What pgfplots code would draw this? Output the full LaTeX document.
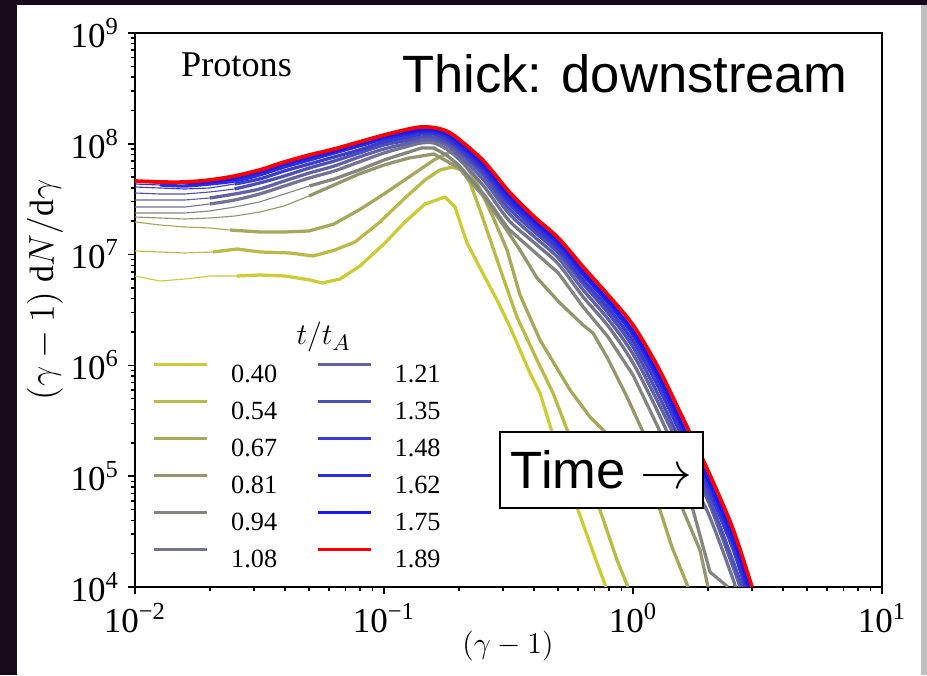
\documentclass[border=0pt]{standalone}
\usepackage{pgfplots}
\pgfplotsset{compat=1.18}
\usepackage{fontspec}
\setmainfont{Liberation Serif}
\newfontfamily\arialfont{Liberation Sans}
\definecolor{bgdark}{RGB}{22,10,26}
\definecolor{c040}{rgb}{0.80,0.80,0.20}
\definecolor{c054}{rgb}{0.73,0.73,0.275}
\definecolor{c067}{rgb}{0.66,0.66,0.35}
\definecolor{c081}{rgb}{0.59,0.59,0.425}
\definecolor{c094}{rgb}{0.52,0.52,0.50}
\definecolor{c108}{rgb}{0.45,0.45,0.575}
\definecolor{c121}{rgb}{0.38,0.38,0.65}
\definecolor{c135}{rgb}{0.31,0.31,0.725}
\definecolor{c148}{rgb}{0.24,0.24,0.80}
\definecolor{c162}{rgb}{0.17,0.17,0.875}
\definecolor{c175}{rgb}{0.10,0.10,0.95}
\definecolor{c189}{rgb}{1,0,0}
\begin{document}
\begin{tikzpicture}[x=1pt,y=1pt]
\fill[bgdark] (0,0) rectangle (370.8,270);
\fill[white] (6.8,0) rectangle (368.4,268);
\fill[black!25] (368.4,0) rectangle (370.8,268);
\begin{axis}[
  at={(54pt,35.2pt)}, anchor=south west,
  scale only axis, width=298.8pt, height=221.6pt,
  xmode=log, ymode=log,
  xmin=0.01, xmax=10, ymin=1e4, ymax=1e9,
  xtick={0.01,0.1,1,10},
  xticklabels={10\textsuperscript{−2},10\textsuperscript{−1},10\textsuperscript{0},10\textsuperscript{1}},
  ytick={1e4,1e5,1e6,1e7,1e8,1e9},
  yticklabels={10\textsuperscript{4},10\textsuperscript{5},10\textsuperscript{6},10\textsuperscript{7},10\textsuperscript{8},10\textsuperscript{9}},
  tick align=outside, xtick pos=left, ytick pos=left,
  major tick length=2.8pt, minor tick length=1.6pt,
  every tick/.style={black, line width=0.6pt},
  axis line style={line width=0.7pt},
  ticklabel style={font=\fontsize{14}{14}\selectfont},
  thinl/.style={line width=0.45pt, line join=round},
  thickl/.style={line width=1.3pt, line join=round},
  sm/.style={smooth, tension=0.5},
  legend columns=2,
  legend style={at={(0.013,0.414)}, anchor=north west, draw=none, fill=none,
    font=\fontsize{10.5}{10.5}\selectfont,
    nodes={inner sep=0pt, text height=7.4pt, text depth=0pt},
    row sep=6.9pt,
    /tikz/every odd column/.append style={column sep=8.9pt},
    /tikz/every even column/.append style={column sep=15.6pt}},
  legend image code/.code={\draw[#1] (0pt,3.5pt) -- (21.2pt,3.5pt);},
]
% 0.40
\addplot[c040, thinl, forget plot] coordinates {(0.01,6.409e6) (0.0126,5.776e6) (0.01588,6.022e6) (0.02001,6.409e6) (0.02568,6.409e6)};
\addplot[c040, thickl, forget plot] coordinates {(0.02568,6.409e6) (0.03177,6.544e6) (0.04004,6.409e6) (0.05043,5.898e6) (0.05636,5.541e6) (0.06658,6.022e6) (0.08008,7.890e6) (0.1009,1.273e7) (0.1214,1.969e7) (0.1461,2.861e7) (0.1758,3.309e7) (0.1928,2.688e7) (0.2154,1.273e7) (0.2430,7.569e6) (0.2844,3.892e6) (0.3206,2.221e6) (0.3858,8.538e5) (0.4232,5.634e5) (0.4728,2.506e5) (0.5333,1.137e5) (0.6015,4.952e4) (0.7169,1.646e4) (0.7792,1e4)};
% 0.54
\addplot[c054, thinl, forget plot] coordinates {(0.01,1.078e7) (0.0126,1.0555e7) (0.01588,1.034e7) (0.02057,1.0555e7)};
\addplot[c054, thickl, forget plot] coordinates {(0.02057,1.0555e7) (0.02568,1.123e7) (0.03177,1.0555e7) (0.04194,1.034e7) (0.05185,9.71e6) (0.06356,1.10e7) (0.07647,1.299e7) (0.09636,1.969e7) (0.1214,3.241e7) (0.1461,4.712e7) (0.1679,5.80e7) (0.1876,6.174e7) (0.2057,5.80e7) (0.2215,4.427e7) (0.2430,2.526e7) (0.2715,1.220e7) (0.3062,5.541e6) (0.3420,2.734e6) (0.4116,1.118e6) (0.4772,5.634e5) (0.5483,2.506e5) (0.6415,1.137e5) (0.7370,4.952e4) (0.8626,1.752e4) (0.9548,1e4)};
% 0.67
\addplot[c067, thinl, forget plot] coordinates {(0.01,1.969e7) (0.0126,1.850e7) (0.01588,1.774e7) (0.02001,1.738e7) (0.02407,1.667e7)};
\addplot[c067, thickl, forget plot] coordinates {(0.02407,1.667e7) (0.03177,1.599e7) (0.03967,1.599e7) (0.04997,1.633e7) (0.06298,1.888e7) (0.07935,2.526e7) (0.1,3.522e7) (0.126,5.015e7) (0.1588,7.14e7) (0.1842,8.431e7) (0.2020,7.60e7) (0.2363,4.427e7) (0.2741,2.184e7) (0.3119,1.100e7) (0.3517,4.318e6) (0.4232,1.695e6) (0.5585,5.996e5) (0.6720,3.421e5) (0.7720,2.506e5) (1.283,4.952e4) (1.434,2.296e4) (1.663,1e4)};
% 0.81
\addplot[c081, thinl, forget plot] coordinates {(0.01,2.184e7) (0.0126,2.139e7) (0.01588,2.095e7) (0.02001,2.139e7) (0.02521,2.230e7) (0.03177,2.423e7) (0.03967,2.745e7) (0.04997,3.379e7)};
\addplot[c081, thickl, forget plot] coordinates {(0.04997,3.379e7) (0.06298,4.247e7) (0.07935,5.337e7) (0.1,6.436e7) (0.126,7.443e7) (0.1588,8.088e7) (0.2001,6.047e7) (0.2521,3.309e7) (0.3148,1.599e7) (0.3517,1.100e7) (0.4116,6.148e6) (0.5088,3.657e6) (0.6300,2.315e6) (0.6909,1.960e6) (0.7937,1.142e6) (0.9461,5.185e5) (1.097,2.506e5) (1.283,1.262e5) (1.588,4.952e4) (1.858,2.157e4) (2.001,1e4)};
% 0.94
\addplot[c094, thinl, forget plot] coordinates {(0.01,2.374e7) (0.0126,2.374e7) (0.01585,2.374e7) (0.01995,2.474e7) (0.02512,2.688e7) (0.03162,2.983e7) (0.03981,3.522e7) (0.05012,4.16e7)};
\addplot[c094, thickl, forget plot] coordinates {(0.05012,4.16e7) (0.0631,4.81e7) (0.07943,5.80e7) (0.1,7.14e7) (0.1259,8.431e7) (0.1413,9.163e7) (0.1585,9.163e7) (0.178,7.922e7) (0.1995,6.436e7) (0.2512,3.522e7) (0.3162,1.702e7) (0.3981,1.078e7) (0.5012,6.821e6) (0.631,3.365e6) (0.7943,1.804e6) (1.0,8.189e5) (1.259,2.78e5) (1.588,7.505e4) (1.742,4.952e4) (2.038,1.366e4) (2.407,1e4)};
% 1.08
\addplot[c108, thinl, forget plot] coordinates {(0.01,2.688e7) (0.0126,2.688e7) (0.01585,2.688e7) (0.01995,2.861e7)};
\addplot[c108, thickl, sm, forget plot] coordinates {(0.01995,2.861e7) (0.02512,3.109e7) (0.03162,3.522e7) (0.03981,4.16e7) (0.05012,4.912e7) (0.0631,5.681e7) (0.07943,6.849e7) (0.1,8.258e7) (0.1259,9.552e7) (0.1413,1.017e8) (0.1585,1.017e8) (0.178,8.974e7) (0.1995,7.29e7) (0.2512,4.16e7) (0.3162,2.052e7) (0.3981,1.299e7) (0.5012,8.224e6) (0.631,4.143e6) (0.7943,2.267e6) (1.0,1.051e6) (1.259,3.797e5) (1.585,1.236e5) (1.995,4.751e4) (2.512,1.205e4) (2.568,1e4)};
% 1.21
\addplot[c121, thinl, forget plot] coordinates {(0.01,3.109e7) (0.0126,3.109e7) (0.01585,3.109e7) (0.01995,3.241e7)};
\addplot[c121, thickl, sm, forget plot] coordinates {(0.01995,3.241e7) (0.02512,3.522e7) (0.03162,3.908e7) (0.03981,4.615e7) (0.05012,5.449e7) (0.0631,6.303e7) (0.07943,7.60e7) (0.1,8.974e7) (0.1259,1.017e8) (0.1413,1.082e8) (0.1585,1.082e8) (0.178,9.75e7) (0.1995,7.922e7) (0.2512,4.712e7) (0.3162,2.374e7) (0.3981,1.472e7) (0.5012,9.317e6) (0.631,4.791e6) (0.7943,2.622e6) (1.0,1.267e6) (1.259,4.673e5) (1.585,1.619e5) (1.995,6.097e4) (2.512,1.547e4) (2.690,1e4)};
% 1.35
\addplot[c135, thinl, forget plot] coordinates {(0.01,3.597e7) (0.0126,3.522e7) (0.01585,3.522e7) (0.01995,3.672e7) (0.02512,3.908e7)};
\addplot[c135, thickl, sm, forget plot] coordinates {(0.02512,3.908e7) (0.03162,4.427e7) (0.03981,5.12e7) (0.05012,6.047e7) (0.0631,6.993e7) (0.07943,8.258e7) (0.1,9.75e7) (0.1259,1.082e8) (0.1413,1.151e8) (0.1585,1.151e8) (0.178,1.038e8) (0.1995,8.609e7) (0.2512,5.228e7) (0.3162,2.633e7) (0.3981,1.633e7) (0.5012,1.034e7) (0.631,5.427e6) (0.7943,2.971e6) (1.0,1.466e6) (1.259,5.518e5) (1.585,1.873e5) (1.995,6.764e4) (2.512,1.752e4) (2.741,1e4)};
% 1.48
\addplot[c148, thinl, forget plot] coordinates {(0.01,4.074e7) (0.0126,3.99e7) (0.01585,3.908e7) (0.01995,3.99e7) (0.02512,4.336e7)};
\addplot[c148, thickl, sm, forget plot] coordinates {(0.02512,4.336e7) (0.03162,4.81e7) (0.03981,5.681e7) (0.05012,6.57e7) (0.0631,7.60e7) (0.07943,8.789e7) (0.1,1.038e8) (0.1259,1.151e8) (0.1413,1.226e8) (0.1585,1.226e8) (0.178,1.105e8) (0.1995,9.163e7) (0.2512,5.681e7) (0.3162,2.921e7) (0.3981,1.774e7) (0.5012,1.123e7) (0.631,5.898e6) (0.7943,3.295e6) (1.0,1.660e6) (1.259,6.516e5) (1.585,2.211e5) (1.995,7.824e4) (2.512,2.248e4) (2.818,1e4)};
% 1.62
\addplot[c162, thinl, forget plot] coordinates {(0.01,4.336e7) (0.0126,4.247e7)};
\addplot[c162, thickl, sm, forget plot] coordinates {(0.0126,4.247e7) (0.01585,4.16e7) (0.01995,4.336e7) (0.02512,4.615e7) (0.03162,5.228e7) (0.03981,6.174e7) (0.05012,7.14e7) (0.0631,8.258e7) (0.07943,9.552e7) (0.1,1.105e8) (0.1259,1.222e8) (0.1413,1.278e8) (0.1585,1.278e8) (0.178,1.176e8) (0.1995,9.75e7) (0.2512,6.047e7) (0.3162,3.174e7) (0.3981,1.928e7) (0.5012,1.220e7) (0.631,6.544e6) (0.7943,3.657e6) (1.0,1.881e6) (1.259,7.537e5) (1.585,2.558e5) (1.995,8.863e4) (2.512,2.547e4) (2.870,1e4)};
% 1.75
\addplot[c175, thinl, forget plot] coordinates {(0.01,4.52e7) (0.0126,4.427e7) (0.01585,4.427e7)};
\addplot[c175, thickl, sm, forget plot] coordinates {(0.01585,4.427e7) (0.01995,4.52e7) (0.02512,4.912e7) (0.03162,5.564e7) (0.03981,6.57e7) (0.05012,7.60e7) (0.0631,8.609e7) (0.07943,9.96e7) (0.1,1.151e8) (0.1259,1.278e8) (0.1413,1.332e8) (0.1585,1.332e8) (0.178,1.226e8) (0.1995,1.038e8) (0.2512,6.436e7) (0.3162,3.449e7) (0.3981,2.052e7) (0.5012,1.299e7) (0.631,6.965e6) (0.7943,3.892e6) (1.0,2.044e6) (1.259,8.362e5) (1.585,2.838e5) (1.995,9.631e4) (2.512,2.885e4) (2.924,1e4)};
% 1.89
\addplot[c189, line width=1.5pt, line join=round, sm, forget plot] coordinates {(0.01,4.615e7) (0.0126,4.52e7) (0.01585,4.52e7) (0.01995,4.712e7) (0.02512,5.12e7) (0.03162,5.80e7) (0.03981,6.849e7) (0.05012,7.922e7) (0.0631,8.974e7) (0.07943,1.038e8) (0.1,1.200e8) (0.1259,1.360e8) (0.1413,1.418e8) (0.1585,1.40e8) (0.178,1.305e8) (0.1995,1.105e8) (0.2512,6.993e7) (0.3162,3.749e7) (0.3981,2.230e7) (0.5012,1.412e7) (0.631,7.728e6) (0.7943,4.318e6) (1.0,2.315e6) (1.259,9.672e5) (1.585,3.351e5) (1.995,1.137e5) (2.512,3.406e4) (3.006,1e4)};
% legend (column-wise order)
\addlegendimage{c040, thickl}\addlegendentry{0.40}
\addlegendimage{c121, thickl}\addlegendentry{1.21}
\addlegendimage{c054, thickl}\addlegendentry{0.54}
\addlegendimage{c135, thickl}\addlegendentry{1.35}
\addlegendimage{c067, thickl}\addlegendentry{0.67}
\addlegendimage{c148, thickl}\addlegendentry{1.48}
\addlegendimage{c081, thickl}\addlegendentry{0.81}
\addlegendimage{c162, thickl}\addlegendentry{1.62}
\addlegendimage{c094, thickl}\addlegendentry{0.94}
\addlegendimage{c175, thickl}\addlegendentry{1.75}
\addlegendimage{c108, thickl}\addlegendentry{1.08}
\addlegendimage{c189, thickl}\addlegendentry{1.89}
\end{axis}
\node[rotate=90, font=\fontsize{13.5}{13.5}\selectfont] at (18,154) {$(\gamma-1)\ \mathrm{d}N/\mathrm{d}\gamma$};
\node[anchor=base, font=\fontsize{12}{12}\selectfont] at (203.2,8.8) {$(\gamma-1)$};
\node[anchor=base, font=\fontsize{14.5}{14.5}\selectfont] at (94.6,239.2) {Protons};
\node[anchor=base, font=\arialfont\fontsize{21}{21}\selectfont] at (250,232.8) {Thick: downstream};
\node[anchor=base, font=\fontsize{13}{13}\selectfont] at (129.5,132) {$t/t_A$};
\node[draw=black, line width=1.1pt, fill=white, minimum width=81.2pt, minimum height=30.4pt, inner sep=0pt, font=\arialfont\fontsize{21}{21}\selectfont] at (240.6,82) {Time $\rightarrow$};
\pgfresetboundingbox
\useasboundingbox (0,0) rectangle (370.8,270);
\end{tikzpicture}
\end{document}
